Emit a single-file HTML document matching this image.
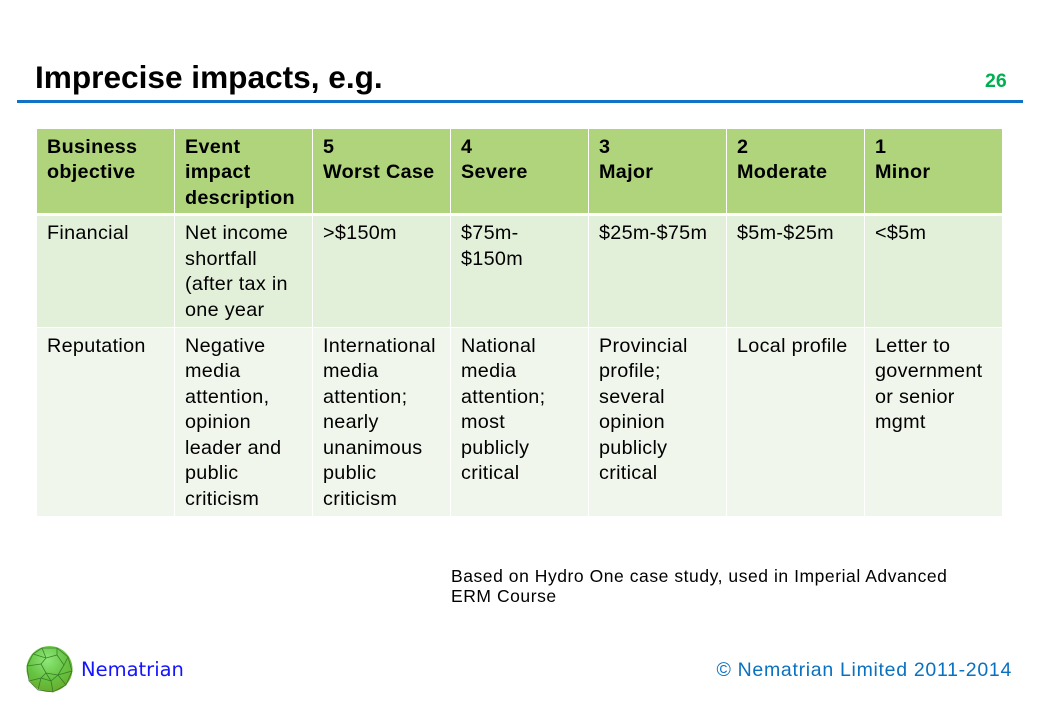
<!DOCTYPE html>
<html><head><meta charset="utf-8"><style>
html,body{margin:0;padding:0;background:#fff;}
body{width:1040px;height:720px;position:relative;overflow:hidden;font-family:"Liberation Sans",Arial,sans-serif;color:#000;}
.a{position:absolute;white-space:nowrap;}
.cell{position:absolute;box-sizing:border-box;padding:5.5px 0 0 10px;font-size:19.8px;line-height:25.6px;letter-spacing:0.3px;white-space:nowrap;}
.h{background:#b0d47c;font-weight:bold;top:129px;height:83.5px;}
.r1{background:#e2efd9;top:215.5px;height:111px;}
.r2{background:#f0f6eb;top:328px;height:188px;}
</style></head><body>

<div class="a" style="left:35px;top:61.5px;font-size:31.6px;line-height:31.6px;font-weight:bold;">Imprecise impacts, e.g.</div>
<div class="a" style="left:985px;top:71.5px;font-size:19.5px;line-height:19.5px;font-weight:bold;color:#00b050;">26</div>
<div class="a" style="left:17px;top:100px;width:1006px;height:3px;background:#1072c4;"></div>

<!-- header -->
<div class="cell h" style="left:37px;width:136.5px;">Business<br>objective</div>
<div class="cell h" style="left:175px;width:136.5px;">Event<br>impact<br>description</div>
<div class="cell h" style="left:313px;width:136.5px;">5<br>Worst Case</div>
<div class="cell h" style="left:451px;width:136.5px;">4<br>Severe</div>
<div class="cell h" style="left:589px;width:136.5px;">3<br>Major</div>
<div class="cell h" style="left:727px;width:136.5px;">2<br>Moderate</div>
<div class="cell h" style="left:865px;width:137px;">1<br>Minor</div>

<!-- row 1 -->
<div class="cell r1" style="left:37px;width:136.5px;">Financial</div>
<div class="cell r1" style="left:175px;width:136.5px;">Net income<br>shortfall<br>(after tax in<br>one year</div>
<div class="cell r1" style="left:313px;width:136.5px;">&gt;$150m</div>
<div class="cell r1" style="left:451px;width:136.5px;">$75m-<br>$150m</div>
<div class="cell r1" style="left:589px;width:136.5px;">$25m-$75m</div>
<div class="cell r1" style="left:727px;width:136.5px;">$5m-$25m</div>
<div class="cell r1" style="left:865px;width:137px;">&lt;$5m</div>

<!-- row 2 -->
<div class="cell r2" style="left:37px;width:136.5px;">Reputation</div>
<div class="cell r2" style="left:175px;width:136.5px;">Negative<br>media<br>attention,<br>opinion<br>leader and<br>public<br>criticism</div>
<div class="cell r2" style="left:313px;width:136.5px;">International<br>media<br>attention;<br>nearly<br>unanimous<br>public<br>criticism</div>
<div class="cell r2" style="left:451px;width:136.5px;">National<br>media<br>attention;<br>most<br>publicly<br>critical</div>
<div class="cell r2" style="left:589px;width:136.5px;">Provincial<br>profile;<br>several<br>opinion<br>publicly<br>critical</div>
<div class="cell r2" style="left:727px;width:136.5px;">Local profile</div>
<div class="cell r2" style="left:865px;width:137px;">Letter to<br>government<br>or senior<br>mgmt</div>

<div class="a" style="left:451px;top:566px;font-size:17.5px;line-height:20px;letter-spacing:0.55px;">Based on Hydro One case study, used in Imperial Advanced<br>ERM Course</div>

<!-- logo -->
<svg class="a" style="left:24px;top:645px;" width="52" height="50" viewBox="0 0 52 50">
<defs><radialGradient id="g" cx="0.45" cy="0.3" r="0.75">
<stop offset="0" stop-color="#8ee87a"/><stop offset="0.55" stop-color="#66c443"/><stop offset="1" stop-color="#6aa82a"/></radialGradient></defs>
<circle cx="25.5" cy="24" r="23" fill="url(#g)"/>
<g fill="none" stroke="#2f6a1e" stroke-width="0.8" opacity="0.8">
<polygon points="18,3 33,3 44,12 48,26 42,40 29,47 14,45 5,36 3,21 9,9"/>
<polygon points="22,13 33,10 40,20 34,30 22,28 17,19"/>
<line x1="18" y1="3" x2="22" y2="13"/><line x1="33" y1="3" x2="33" y2="10"/>
<line x1="44" y1="12" x2="40" y2="20"/><line x1="48" y1="26" x2="34" y2="30"/>
<line x1="42" y1="40" x2="34" y2="30"/><line x1="29" y1="47" x2="27" y2="36"/>
<line x1="14" y1="45" x2="17" y2="33"/><line x1="5" y1="36" x2="17" y2="33"/>
<line x1="3" y1="21" x2="17" y2="19"/><line x1="9" y1="9" x2="22" y2="13"/>
<polyline points="17,33 22,28 27,36 34,30"/><line x1="17" y1="33" x2="27" y2="36"/>
</g>
</svg>
<div class="a" style="left:81px;top:660px;font-family:'DejaVu Sans',sans-serif;font-size:19.5px;line-height:19.5px;color:#1414ff;">Nematrian</div>
<div class="a" style="right:28px;top:660.5px;font-size:19.5px;line-height:19.5px;letter-spacing:0.7px;color:#0a70c0;">© Nematrian Limited 2011-2014</div>

</body></html>
